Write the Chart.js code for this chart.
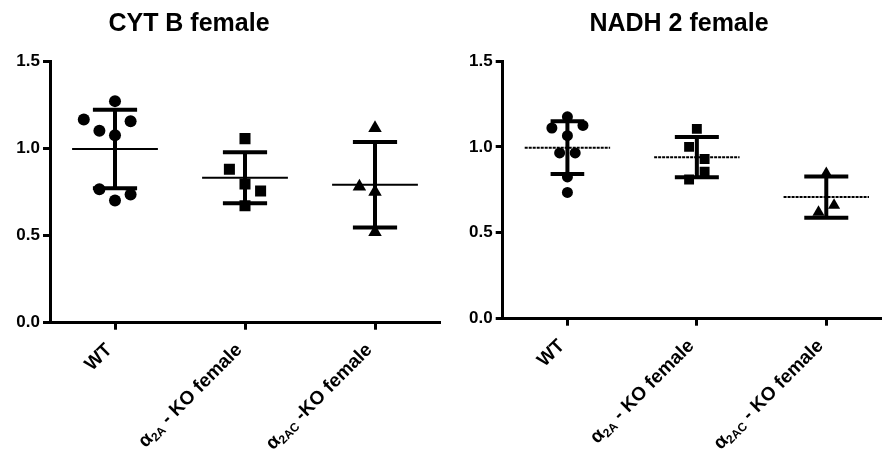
<!DOCTYPE html>
<html>
<head>
<meta charset="utf-8">
<script src="https://cdn.jsdelivr.net/npm/chart.js@4.4.0/dist/chart.umd.min.js"></script>
<style>
  html, body { margin: 0; padding: 0; background: #fff; overflow: hidden; }
  #wrap { position: relative; width: 882px; height: 457px; overflow: hidden; }
  .panel { position: absolute; top: 0; }
  #p1 { left: 0; }
  #p2 { left: 441px; }
</style>
</head>
<body>
<div id="wrap">
  <div class="panel" id="p1"><canvas id="cytb" width="441" height="457"></canvas></div>
  <div class="panel" id="p2"><canvas id="nadh" width="452" height="457"></canvas></div>
</div>
<script>
// tick labels, "|" marks the subscript part
const cytLabels = ['WT', 'α|2A| - KO female', 'α|2AC| -KO female'];
const nadhLabels = ['WT', 'α|2A| - KO female', 'α|2AC| - KO female'];
const yTicks = [0, 0.5, 1.0, 1.5];

// CYT B female - relative expression per animal
const cytWT = [1.27, 1.165, 1.155, 1.10, 1.075, 0.765, 0.735, 0.70];
const cytA = [1.055, 0.88, 0.795, 0.755, 0.67];
const cytAC = [1.115, 0.78, 0.75, 0.52];

// NADH 2 female
const nadhWT = [1.175, 1.11, 1.125, 1.065, 0.965, 0.965, 0.825, 0.735];
const nadhA = [1.105, 1.0, 0.93, 0.855, 0.81];
const nadhAC = [0.845, 0.62, 0.66];

// column-scatter spread of the points (category units)
const cytWTx = [0, -0.24, 0.12, -0.12, 0, -0.12, 0.12, 0];
const cytAx = [0, -0.12, 0, 0.12, 0];
const cytACx = [0, -0.12, 0, 0];
const nadhWTx = [0, -0.12, 0.12, 0, -0.06, 0.06, 0, 0];
const nadhAx = [0, -0.06, 0.06, 0.06, -0.06];
const nadhACx = [0, -0.06, 0.06];

const FONT = "'Liberation Sans', Arial, sans-serif";
const MARKERS = ['circle', 'rect', 'triangle'];

function mean(a) { return a.reduce((s, v) => s + v, 0) / a.length; }
function sd(a) {
    const m = mean(a);
    return Math.sqrt(a.reduce((s, v) => s + (v - m) * (v - m), 0) / (a.length - 1));
}

function seg(x0, x1, y0, y1, width, dash) {
    return {
        type: 'scatter',
        data: [{ x: x0, y: y0 }, { x: x1, y: y1 }],
        showLine: true,
        borderColor: '#000',
        borderWidth: width,
        borderDash: dash || [],
        borderCapStyle: 'butt',
        pointRadius: 0,
        order: 2
    };
}

function drawLabel(ctx, text, x, y) {
    const parts = text.split('|');
    const pre = parts[0], sub = parts[1] || '', post = parts[2] || '';
    const big = 'bold 19px ' + FONT;
    const small = 'bold 12px ' + FONT;
    ctx.save();
    ctx.translate(x, y);
    ctx.rotate(-Math.PI / 4);
    ctx.fillStyle = '#000';
    ctx.textBaseline = 'alphabetic';
    ctx.textAlign = 'left';
    ctx.font = big;
    const w1 = ctx.measureText(pre).width;
    const w3 = ctx.measureText(post).width;
    ctx.font = small;
    const w2 = ctx.measureText(sub).width;
    let cx = -(w1 + w2 + w3);
    ctx.font = big;
    ctx.fillText(pre, cx, 0);
    cx += w1;
    ctx.font = small;
    ctx.fillText(sub, cx, 3);
    cx += w2;
    ctx.font = big;
    ctx.fillText(post, cx, 0);
    ctx.restore();
}

function makeChart(id, cfg) {
    const datasets = [];
    cfg.groups.forEach((vals, i) => {
        datasets.push({
            type: 'scatter',
            data: vals.map((v, k) => ({ x: i + cfg.spread[i][k], y: v })),
            pointStyle: MARKERS[i],
            pointRadius: cfg.radius[i],
            backgroundColor: '#000',
            borderColor: '#000',
            borderWidth: 0,
            order: 1
        });
        const m = mean(vals), s = sd(vals), c = cfg.cap[i];
        datasets.push(seg(i - 0.33, i + 0.33, m, m, 2, cfg.meanDash));
        datasets.push(seg(i, i, m - s, m + s, 4));
        datasets.push(seg(i - c, i + c, m + s, m + s, 4));
        datasets.push(seg(i - c, i + c, m - s, m - s, 4));
    });

    const decor = {
        id: 'decor',
        afterDraw(chart) {
            const ctx = chart.ctx;
            const xs = chart.scales.x;
            const bottom = chart.chartArea.bottom;
            ctx.save();
            ctx.fillStyle = '#000';
            ctx.font = 'bold 25px ' + FONT;
            ctx.textAlign = 'center';
            ctx.textBaseline = 'alphabetic';
            ctx.fillText(cfg.title, cfg.titleX, 31);
            ctx.restore();
            cfg.labels.forEach((lab, i) => {
                drawLabel(ctx, lab, xs.getPixelForValue(i) - 2, bottom + 28);
            });
        }
    };

    const axisBorder = { display: true, color: '#000', width: 3, dash: cfg.axisDash };
    new Chart(document.getElementById(id), {
        type: 'scatter',
        data: { datasets },
        plugins: [decor],
        options: {
            responsive: false,
            animation: false,
            events: [],
            layout: { autoPadding: false, padding: { top: 61, right: cfg.padRight, left: 0, bottom: 0 } },
            plugins: { legend: { display: false }, tooltip: { enabled: false } },
            scales: {
                x: {
                    type: 'linear',
                    min: -0.5,
                    max: 2.5,
                    afterBuildTicks: s => { s.ticks = cfg.labels.map((l, i) => ({ value: i })); },
                    afterFit: s => { s.height = cfg.xHeight; },
                    ticks: { display: false },
                    grid: { drawOnChartArea: false, drawTicks: true, tickLength: 7, lineWidth: 3, color: '#000' },
                    border: axisBorder
                },
                y: {
                    min: 0,
                    max: 1.5,
                    afterBuildTicks: s => { s.ticks = yTicks.map(v => ({ value: v })); },
                    afterFit: s => { s.width = cfg.yWidth; },
                    ticks: {
                        callback: v => v.toFixed(1),
                        color: '#000',
                        padding: 3,
                        font: { family: FONT, size: 17, weight: 'bold' }
                    },
                    grid: { drawOnChartArea: false, drawTicks: true, tickLength: 7, lineWidth: 3, color: '#000' },
                    border: axisBorder
                }
            }
        }
    });
}

makeChart('cytb', {
    title: 'CYT B female',
    titleX: 189,
    labels: cytLabels,
    groups: [cytWT, cytA, cytAC],
    spread: [cytWTx, cytAx, cytACx],
    radius: [6, 7.8, 7.8],
    cap: [0.17, 0.17, 0.17],
    meanDash: [],
    axisDash: [],
    yWidth: 50,
    xHeight: 134.3,
    padRight: 1
});

makeChart('nadh', {
    title: 'NADH 2 female',
    titleX: 238,
    labels: nadhLabels,
    groups: [nadhWT, nadhA, nadhAC],
    spread: [nadhWTx, nadhAx, nadhACx],
    radius: [5.5, 7, 7],
    cap: [0.13, 0.17, 0.17],
    meanDash: [3, 1],
    axisDash: [3, 1],
    yWidth: 61.7,
    xHeight: 138.3,
    padRight: 2
});
</script>
</body>
</html>
